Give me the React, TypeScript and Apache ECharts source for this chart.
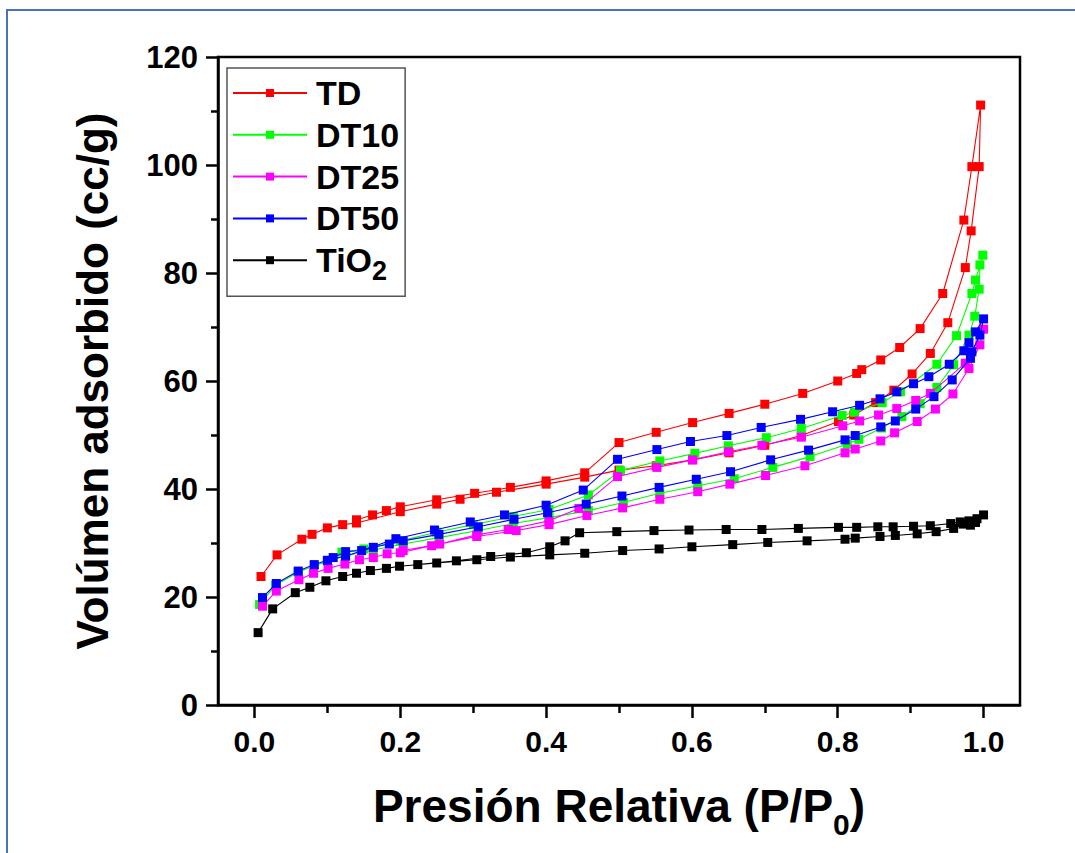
import React, { useEffect, useRef } from "react";
import * as echarts from "echarts";

// ---------- Data (P/P0, volume cc/g) ----------
const SERIES_NAMES = ["TD", "DT10", "DT25", "DT50", "TiO2"];
const SERIES_COLORS = ["#ff0000", "#00ff00", "#ff00ff", "#0000ff", "#000000"];

const X_MAJOR_TICKS = [0, 0.2, 0.4, 0.6, 0.8, 1.0];
const X_MINOR_TICKS = [0.1, 0.3, 0.5, 0.7, 0.9];

const TD_ADS = [
  [0.009, 23.8], [0.031, 27.8], [0.065, 30.7], [0.079, 31.6], [0.1, 32.8], [0.121, 33.4],
  [0.14, 33.7], [0.2, 35.8], [0.25, 37.2], [0.282, 38.1], [0.332, 39.4], [0.4, 40.9],
  [0.453, 42.2], [0.5, 43.5], [0.551, 44.3], [0.601, 45.4], [0.651, 46.7], [0.7, 48.1],
  [0.75, 49.9], [0.801, 52.5], [0.822, 53.7], [0.852, 56.0], [0.877, 58.3], [0.902, 61.3],
  [0.927, 65.1], [0.951, 70.8], [0.975, 81.0], [0.983, 87.8], [0.994, 99.7], [0.996, 111.1],
];
const TD_DES = [
  [0.984, 99.7], [0.973, 89.8], [0.944, 76.2], [0.913, 69.7], [0.885, 66.2], [0.859, 63.9],
  [0.833, 62.1], [0.826, 61.4], [0.8, 60.0], [0.752, 57.7], [0.7, 55.7], [0.651, 54.0],
  [0.601, 52.3], [0.551, 50.5], [0.5, 48.6], [0.453, 43.0], [0.4, 41.5], [0.351, 40.3],
  [0.302, 39.2], [0.25, 38.0], [0.2, 36.7], [0.181, 36.0], [0.162, 35.2], [0.14, 34.3],
];

const DT10_ADS = [
  [0.007, 18.6], [0.029, 22.2], [0.06, 24.6], [0.082, 25.8], [0.1, 26.6], [0.125, 27.6],
  [0.163, 28.7], [0.204, 29.8], [0.253, 31.0], [0.307, 32.3], [0.355, 33.6], [0.404, 34.7],
  [0.458, 36.0], [0.506, 37.5], [0.556, 39.2], [0.608, 40.6], [0.658, 41.9], [0.711, 44.0],
  [0.762, 46.0], [0.813, 48.3], [0.829, 49.2], [0.86, 51.3], [0.888, 53.4], [0.913, 55.8],
  [0.936, 58.8], [0.959, 63.0], [0.98, 68.5], [0.988, 72.0], [0.994, 77.0], [0.995, 81.5],
  [0.999, 83.3],
];
const DT10_DES = [
  [0.989, 78.7], [0.984, 76.2], [0.963, 68.4], [0.936, 63.1], [0.886, 58.0], [0.861, 56.0],
  [0.823, 54.2], [0.806, 53.6], [0.75, 51.2], [0.702, 49.5], [0.65, 48.0], [0.604, 46.6],
  [0.556, 45.2], [0.502, 43.4], [0.458, 38.9], [0.404, 36.2], [0.355, 34.9], [0.3, 33.4],
  [0.25, 32.0], [0.2, 30.4], [0.15, 28.9], [0.12, 28.3],
];

const DT25_ADS = [
  [0.011, 18.3], [0.03, 21.1], [0.061, 23.2], [0.081, 24.4], [0.101, 25.3], [0.124, 26.1],
  [0.144, 26.9], [0.163, 27.3], [0.182, 28.0], [0.2, 28.2], [0.243, 29.5], [0.305, 31.2],
  [0.359, 32.3], [0.404, 33.4], [0.456, 35.1], [0.505, 36.5], [0.556, 38.1], [0.608, 39.5],
  [0.652, 40.9], [0.701, 42.5], [0.755, 44.3], [0.81, 46.7], [0.824, 47.4], [0.859, 48.9],
  [0.878, 50.4], [0.909, 52.5], [0.934, 54.8], [0.958, 57.6], [0.98, 62.3], [0.995, 66.7],
  [1.0, 69.6],
];
const DT25_DES = [
  [0.975, 63.3], [0.927, 57.7], [0.907, 56.4], [0.881, 54.9], [0.856, 53.7], [0.83, 52.6],
  [0.807, 51.7], [0.75, 49.6], [0.696, 48.1], [0.65, 46.9], [0.601, 45.4], [0.552, 44.0],
  [0.498, 42.3], [0.445, 36.4], [0.404, 34.1], [0.348, 32.5], [0.305, 31.5], [0.254, 29.8],
  [0.204, 28.6],
];

const DT50_ADS = [
  [0.011, 19.9], [0.03, 22.5], [0.06, 24.8], [0.082, 26.0], [0.1, 26.8], [0.125, 27.6],
  [0.163, 29.2], [0.185, 29.8], [0.204, 30.4], [0.253, 31.6], [0.307, 33.0], [0.356, 34.4],
  [0.402, 35.6], [0.455, 37.2], [0.504, 38.7], [0.555, 40.3], [0.606, 41.8], [0.653, 43.2],
  [0.708, 45.4], [0.76, 47.2], [0.81, 49.1], [0.824, 49.9], [0.859, 51.5], [0.879, 52.6],
  [0.907, 54.8], [0.932, 57.1], [0.957, 60.2], [0.982, 64.2], [0.984, 65.4], [0.995, 68.5],
  [1.0, 71.5],
];
const DT50_DES = [
  [0.989, 69.1], [0.98, 67.1], [0.973, 65.6], [0.953, 63.1], [0.925, 60.8], [0.904, 59.5],
  [0.881, 58.0], [0.858, 56.7], [0.83, 55.5], [0.793, 54.3], [0.749, 52.9], [0.695, 51.4],
  [0.648, 49.9], [0.598, 48.8], [0.552, 47.3], [0.498, 45.5], [0.451, 39.8], [0.4, 37.0],
  [0.343, 35.2], [0.296, 33.9], [0.247, 32.4], [0.194, 30.8], [0.147, 28.6], [0.125, 28.4],
  [0.108, 27.3],
];

const TIO2_ADS = [
  [0.005, 13.4], [0.025, 17.8], [0.056, 20.8], [0.076, 21.8], [0.098, 23.0], [0.121, 23.8],
  [0.14, 24.4], [0.159, 24.9], [0.181, 25.3], [0.199, 25.7], [0.25, 26.3], [0.305, 26.9],
  [0.351, 27.4], [0.405, 27.8], [0.453, 28.1], [0.505, 28.6], [0.555, 28.9], [0.6, 29.3],
  [0.656, 29.7], [0.704, 30.1], [0.758, 30.4], [0.81, 30.7], [0.824, 30.9], [0.858, 31.2],
  [0.879, 31.4], [0.909, 31.7], [0.935, 32.1], [0.959, 32.7], [0.972, 33.5], [0.982, 33.3],
  [0.989, 33.8], [1.0, 35.2],
];
const TIO2_DES = [
  [0.991, 34.5], [0.98, 34.1], [0.968, 33.9], [0.955, 33.6], [0.927, 33.2], [0.904, 33.1],
  [0.876, 33.0], [0.855, 33.0], [0.826, 32.9], [0.801, 32.9], [0.746, 32.7], [0.696, 32.5],
  [0.647, 32.5], [0.596, 32.4], [0.548, 32.3], [0.497, 32.1], [0.446, 31.9], [0.426, 30.4],
  [0.405, 29.3], [0.373, 28.2], [0.324, 27.5], [0.277, 26.7], [0.224, 26.0],
];

const SERIES_DATA = [
  [...TD_ADS, ...TD_DES],
  [...DT10_ADS, ...DT10_DES],
  [...DT25_ADS, ...DT25_DES],
  [...DT50_ADS, ...DT50_DES],
  [...TIO2_ADS, ...TIO2_DES],
];

const FONT = "'Liberation Sans', Arial, Helvetica, sans-serif";

export default function App() {
  const ref = useRef<HTMLDivElement>(null);

  useEffect(() => {
    if (!ref.current) return;
    const chart = echarts.init(ref.current, undefined, { renderer: "svg" });

    const option: any = {
      animation: false,
      backgroundColor: "#ffffff",
      grid: {
        left: 218,
        top: 57,
        right: 55,
        bottom: 148,
        show: true,
        borderColor: "#000",
        borderWidth: 2.5,
        backgroundColor: "transparent",
      },
      legend: {
        orient: "vertical",
        left: 227,
        top: 68,
        padding: [8, 6, 12, 5],
        itemWidth: 74,
        itemHeight: 10,
        itemGap: 7.8,
        borderColor: "#555",
        borderWidth: 1.5,
        data: SERIES_NAMES,
        formatter: (name: string) =>
          name === "TiO2" ? "{m|TiO}{s|2}" : "{m|" + name + "}",
        textStyle: {
          color: "#000",
          fontFamily: FONT,
          fontWeight: "bold",
          fontSize: 34,
          padding: [0, 0, 0, 4],
          rich: {
            m: { fontFamily: FONT, fontWeight: "bold", fontSize: 34, lineHeight: 36, color: "#000" },
            s: {
              fontFamily: FONT,
              fontWeight: "bold",
              fontSize: 27,
              lineHeight: 36,
              verticalAlign: "bottom",
              padding: [0, 0, -6, 0],
              color: "#000",
            },
          },
        },
      },
      xAxis: [
        {
          type: "value",
          min: -0.05,
          max: 1.05,
          position: "bottom",
          name: "Presión Relativa (P/P{s|0})",
          nameLocation: "middle",
          nameGap: 78,
          nameTextStyle: {
            color: "#000",
            fontFamily: FONT,
            fontWeight: "bold",
            fontSize: 46,
            rich: {
              s: {
                fontFamily: FONT,
                fontWeight: "bold",
                fontSize: 30,
                verticalAlign: "bottom",
                padding: [0, 0, -10, 0],
                color: "#000",
              },
            },
          },
          axisLine: { show: true, onZero: false, lineStyle: { color: "#000", width: 2.5 } },
          axisTick: {
            show: true,
            inside: false,
            length: 13,
            customValues: X_MAJOR_TICKS,
            lineStyle: { color: "#000", width: 2.5 },
          },
          axisLabel: {
            show: true,
            customValues: X_MAJOR_TICKS,
            margin: 21,
            color: "#000",
            fontFamily: FONT,
            fontWeight: "bold",
            fontSize: 30,
            formatter: (v: number) => v.toFixed(1),
          },
          splitLine: { show: false },
        },
        {
          type: "value",
          min: -0.05,
          max: 1.05,
          position: "bottom",
          axisLine: { show: false },
          axisTick: {
            show: true,
            inside: false,
            length: 8,
            customValues: X_MINOR_TICKS,
            lineStyle: { color: "#000", width: 2.5 },
          },
          axisLabel: { show: false },
          splitLine: { show: false },
        },
      ],
      yAxis: {
        type: "value",
        min: 0,
        max: 120,
        interval: 20,
        name: "Volúmen adsorbido (cc/g)",
        nameLocation: "middle",
        nameGap: 104,
        nameTextStyle: {
          color: "#000",
          fontFamily: FONT,
          fontWeight: "bold",
          fontSize: 44,
        },
        axisLine: { show: true, onZero: false, lineStyle: { color: "#000", width: 2.5 } },
        axisTick: { show: true, inside: false, length: 12, lineStyle: { color: "#000", width: 2.5 } },
        minorTick: { show: true, splitNumber: 2, length: 7, lineStyle: { color: "#000", width: 2.5 } },
        axisLabel: {
          margin: 20,
          color: "#000",
          fontFamily: FONT,
          fontWeight: "bold",
          fontSize: 31,
        },
        splitLine: { show: false },
      },
      series: SERIES_NAMES.map((name, i) => ({
        name,
        type: "line",
        xAxisIndex: 0,
        data: SERIES_DATA[i],
        symbol: "rect",
        symbolSize: 9,
        showSymbol: true,
        showAllSymbol: true,
        color: SERIES_COLORS[i],
        itemStyle: { color: SERIES_COLORS[i] },
        lineStyle: { color: SERIES_COLORS[i], width: 1.1 },
        z: 2 + i,
      })),
      graphic: [
        {
          type: "rect",
          silent: true,
          shape: { x: 7, y: 10, width: 1100, height: 900 },
          style: { fill: "none", stroke: "#4472c4", lineWidth: 2 },
          z: 100,
        },
      ],
    };

    chart.setOption(option);
    return () => chart.dispose();
  }, []);

  return (
    <div
      ref={ref}
      style={{ position: "fixed", left: 0, top: 0, width: 1075, height: 853, background: "#fff" }}
    />
  );
}
